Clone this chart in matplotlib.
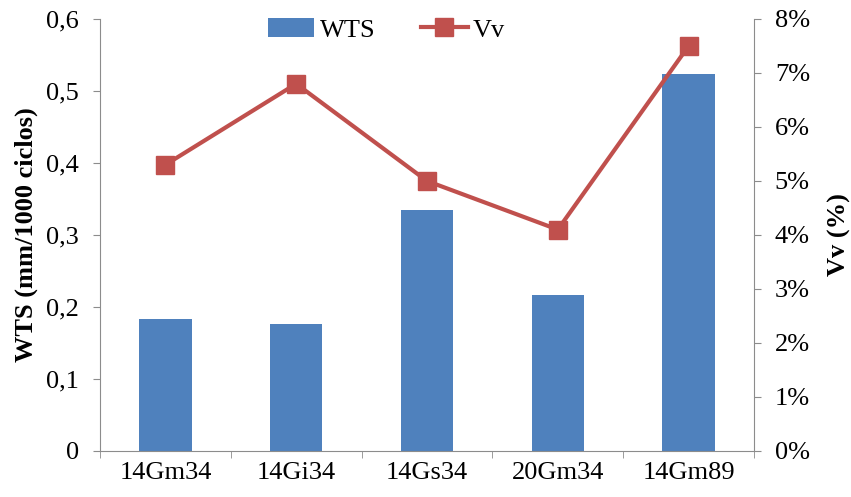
import matplotlib.pyplot as plt
import numpy as np
from matplotlib.ticker import FuncFormatter, FixedLocator

categories = ["14Gm34", "14Gi34", "14Gs34", "20Gm34", "14Gm89"]
wts = [0.183, 0.176, 0.335, 0.217, 0.523]
vv = [5.3, 6.8, 5.0, 4.1, 7.5]

plt.rcParams["font.family"] = ["Liberation Serif", "DejaVu Serif"]
plt.rcParams["font.size"] = 19

BAR = "#4f81bd"
LINE = "#c0504d"
GREY = "#8c8c8c"

fig = plt.figure(figsize=(8.51, 4.97), dpi=100)
ax = fig.add_axes([0.1175, 0.0926, 0.7685, 0.8692])
x = np.arange(len(categories))
bars = ax.bar(x, wts, width=0.4, color=BAR, label="WTS", zorder=2)
ax.set_xlim(-0.5, len(categories) - 0.5)
ax.set_ylim(0, 0.6)
ax.set_yticks(np.arange(0, 0.61, 0.1))
ax.yaxis.set_major_formatter(FuncFormatter(
    lambda v, _: "0" if abs(v) < 1e-9 else f"{v:.1f}".replace(".", ",")))
ax.set_xticks(x)
ax.set_xticklabels(categories)
ax.xaxis.set_minor_locator(FixedLocator(np.arange(-0.5, len(categories), 1.0)))
ax.tick_params(axis="x", which="major", length=0, pad=8)
ax.tick_params(axis="x", which="minor", length=5, color=GREY)
ax.tick_params(axis="y", length=5, color=GREY, pad=10)
ax.set_ylabel("WTS (mm/1000 ciclos)", fontweight="bold", labelpad=6)
for s in ["top", "right"]:
    ax.spines[s].set_visible(False)
for s in ["left", "bottom"]:
    ax.spines[s].set_color(GREY)

ax2 = ax.twinx()
line, = ax2.plot(x, vv, "-s", color=LINE, lw=3, ms=13, label="Vv", zorder=3)
ax2.set_ylim(0, 8)
ax2.set_yticks(np.arange(0, 9, 1))
ax2.yaxis.set_major_formatter(FuncFormatter(lambda v, _: f"{v:.0f}%"))
ax2.tick_params(axis="y", length=5, color=GREY, pad=10)
ax2.set_ylabel("Vv (%)", fontweight="bold", labelpad=13)
for s in ["top", "left", "bottom"]:
    ax2.spines[s].set_visible(False)
ax2.spines["right"].set_color(GREY)

fig.legend([bars, line], ["WTS", "Vv"], loc="center left",
           bbox_to_anchor=(0.315, 0.94), ncol=2, frameon=False,
           borderpad=0, borderaxespad=0,
           handlelength=1.75, columnspacing=1.75, handletextpad=0.2)

fig.savefig("out.png", dpi=100)
